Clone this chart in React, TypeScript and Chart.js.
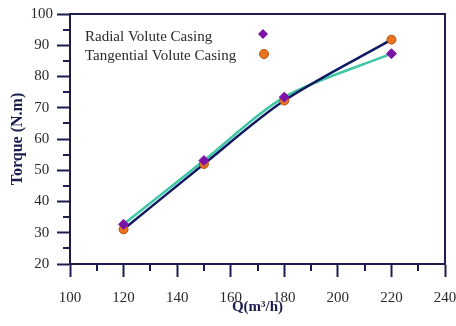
import React, { useEffect, useRef } from 'react';
import { Chart, registerables } from 'chart.js';

Chart.register(...registerables);

const flowRates = [120, 150, 180, 220];
const radialTorque = [32.7, 53.1, 73.4, 87.3];
const tangentialTorque = [31.1, 52.0, 72.3, 91.8];
const xMinorTicks = [110, 130, 150, 170, 190, 210, 230];
const yMinorTicks = [25, 35, 45, 55, 65, 75, 85, 95];
const seriesLabels = ['Radial Volute Casing', 'Tangential Volute Casing'];

const AXIS = '#1c1c4e';
const LABEL = '#2a2a2a';
const PURPLE = '#7d12a8';
const ORANGE = '#ea7320';
const ORANGE_BORDER = '#b5520d';
const TEAL = '#3fc6a6';
const NAVY = '#101a63';
const SERIF = '"Liberation Serif", "Times New Roman", serif';

const decorPlugin = {
  id: 'decor',
  afterDraw(chart: any) {
    const { ctx, chartArea: a, scales } = chart;
    const x = scales.x;
    const y = scales.y;
    ctx.save();
    ctx.strokeStyle = AXIS;
    ctx.lineWidth = 2;
    ctx.beginPath();
    ctx.moveTo(a.left - 1, a.top);
    ctx.lineTo(a.right, a.top);
    ctx.lineTo(a.right, a.bottom);
    ctx.stroke();
    ctx.beginPath();
    xMinorTicks.forEach((v) => {
      const px = Math.round(x.getPixelForValue(v));
      ctx.moveTo(px, a.bottom);
      ctx.lineTo(px, a.bottom + 7);
    });
    yMinorTicks.forEach((v) => {
      const py = Math.round(y.getPixelForValue(v));
      ctx.moveTo(a.left, py);
      ctx.lineTo(a.left - 7, py);
    });
    ctx.stroke();

    // legend
    ctx.font = '15px ' + SERIF;
    ctx.fillStyle = LABEL;
    ctx.textBaseline = 'middle';
    ctx.textAlign = 'left';
    const lx = a.left + 15;
    const mx = a.left + 193;
    const ly1 = a.top + 23;
    const ly2 = a.top + 42;
    ctx.fillText(seriesLabels[0], lx, ly1);
    ctx.fillText(seriesLabels[1], lx, ly2);
    ctx.fillStyle = PURPLE;
    ctx.beginPath();
    const cx = mx;
    const cy = ly1 - 3;
    const r = 5;
    ctx.moveTo(cx, cy - r);
    ctx.lineTo(cx + r, cy);
    ctx.lineTo(cx, cy + r);
    ctx.lineTo(cx - r, cy);
    ctx.closePath();
    ctx.fill();
    ctx.beginPath();
    ctx.arc(mx + 1, ly2 - 2, 4.5, 0, Math.PI * 2);
    ctx.fillStyle = ORANGE;
    ctx.fill();
    ctx.lineWidth = 1;
    ctx.strokeStyle = ORANGE_BORDER;
    ctx.stroke();
    ctx.restore();
  },
};

export default function App() {
  const ref = useRef<HTMLCanvasElement | null>(null);
  useEffect(() => {
    if (!ref.current) return;
    const toPts = (ys: number[]) => flowRates.map((x, i) => ({ x, y: ys[i] }));
    const chart = new Chart(ref.current, {
      type: 'scatter',
      data: {
        datasets: [
          {
            label: seriesLabels[0] + ' fit',
            data: toPts(radialTorque),
            showLine: true,
            borderColor: TEAL,
            borderWidth: 2.5,
            pointRadius: 0,
            tension: 0.3,
            order: 3,
          } as any,
          {
            label: seriesLabels[1] + ' fit',
            data: toPts(tangentialTorque),
            showLine: true,
            borderColor: NAVY,
            borderWidth: 2.5,
            pointRadius: 0,
            tension: 0.3,
            order: 2,
          } as any,
          {
            label: seriesLabels[1],
            data: toPts(tangentialTorque),
            showLine: false,
            pointStyle: 'circle',
            pointRadius: 4.5,
            backgroundColor: ORANGE,
            borderColor: ORANGE_BORDER,
            borderWidth: 1,
            order: 1,
          },
          {
            label: seriesLabels[0],
            data: toPts(radialTorque),
            showLine: false,
            pointStyle: 'rectRot',
            pointRadius: 5,
            backgroundColor: PURPLE,
            borderColor: PURPLE,
            borderWidth: 1,
            order: 0,
          },
        ],
      },
      options: {
        animation: false,
        responsive: true,
        maintainAspectRatio: false,
        layout: { padding: { top: 14, right: 11, left: 0, bottom: 0 } },
        plugins: { legend: { display: false }, tooltip: { enabled: false } },
        scales: {
          x: {
            type: 'linear',
            min: 100,
            max: 240,
            afterFit: (s: any) => {
              s.height = 62;
              s.paddingLeft = 0;
              s.paddingRight = 0;
            },
            ticks: {
              stepSize: 20,
              color: LABEL,
              padding: 12,
              maxRotation: 0,
              font: { family: SERIF, size: 15 },
            },
            border: { color: AXIS, width: 2 },
            grid: {
              drawOnChartArea: false,
              drawTicks: true,
              tickLength: 13,
              tickWidth: 2,
              tickColor: AXIS,
            },
            title: {
              display: true,
              text: 'Q(m³/h)',
              color: AXIS,
              font: { family: SERIF, size: 15, weight: 'bold' },
              padding: { top: 0, bottom: 10 },
            },
          },
          y: {
            type: 'linear',
            min: 20,
            max: 100,
            afterFit: (s: any) => {
              s.width = 70;
              s.paddingTop = 0;
              s.paddingBottom = 0;
            },
            ticks: {
              stepSize: 10,
              color: LABEL,
              padding: 4,
              crossAlign: 'center',
              font: { family: SERIF, size: 15 },
            },
            border: { color: AXIS, width: 2 },
            grid: {
              drawOnChartArea: false,
              drawTicks: true,
              tickLength: 13,
              tickWidth: 2,
              tickColor: AXIS,
            },
            title: {
              display: true,
              text: 'Torque (N.m)',
              color: AXIS,
              font: { family: SERIF, size: 16, weight: 'bold' },
              padding: { top: 8, bottom: 0 },
            },
          },
        },
      } as any,
      plugins: [decorPlugin],
    });
    return () => chart.destroy();
  }, []);

  return (
    <div style={{ position: 'fixed', left: 0, top: 0, width: 456, height: 326, background: '#fff' }}>
      <canvas ref={ref} />
    </div>
  );
}
